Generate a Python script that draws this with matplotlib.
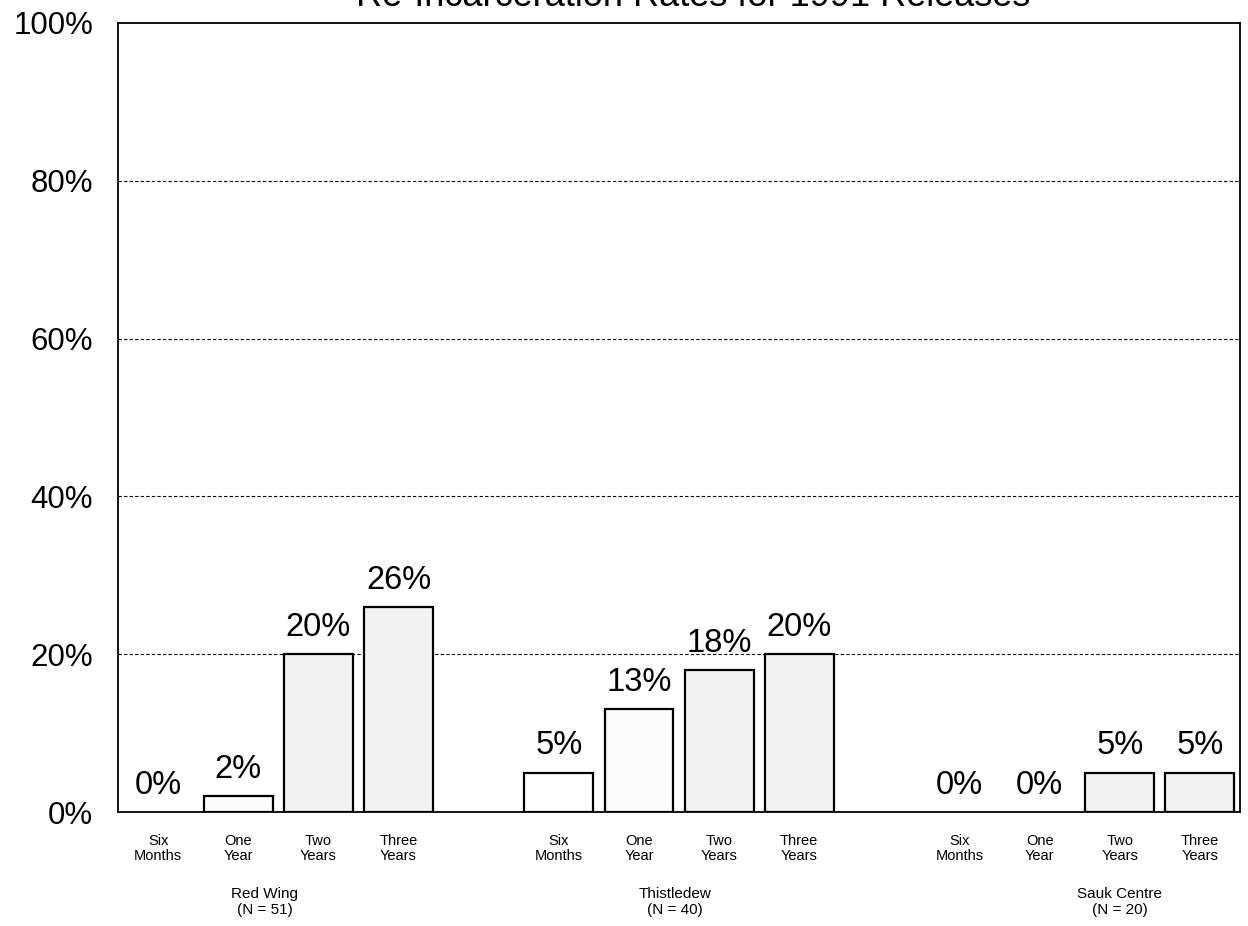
import numpy as np
import matplotlib
matplotlib.use("Agg")
import matplotlib.pyplot as plt
from matplotlib.transforms import blended_transform_factory

plt.rcParams['font.family'] = ['Liberation Sans', 'DejaVu Sans']

# re-incarceration rates (%) by facility and follow-up period
facilities = ['Red Wing\n(N = 51)', 'Thistledew\n(N = 40)', 'Sauk Centre\n(N = 20)']
periods = ['Six\nMonths', 'One\nYear', 'Two\nYears', 'Three\nYears']
red_wing = [0, 2, 20, 26]
thistledew = [5, 13, 18, 20]
sauk_centre = [0, 0, 5, 5]

rates = [red_wing, thistledew, sauk_centre]
fills = ['white', '#fcfcfc', '#f2f2f2', '#f2f2f2']
label_offset = [1.33, 1.45, 2.0]   # where each facility name sits under its group

fig = plt.figure(figsize=(12.48, 9.26), dpi=100)
ax = fig.add_axes([0.0946, 0.1231, 0.899, 0.8521])
trans = blended_transform_factory(ax.transData, ax.transAxes)

xpos = []
xlab = []
for g, vals in enumerate(rates):
    for i, v in enumerate(vals):
        x = g * 5 + i
        xpos.append(x)
        xlab.append(periods[i])
        if v > 0:
            ax.bar(x, v, width=0.86, color=fills[i], edgecolor='black',
                   linewidth=1.6, zorder=3)
        ax.annotate('%d%%' % v, (x, v), xytext=(0, 8), textcoords='offset points',
                    ha='center', va='bottom', fontsize=23.5, zorder=4)
    ax.text(g * 5 + label_offset[g], -0.095, facilities[g], transform=trans,
            ha='center', va='top', fontsize=11, linespacing=1.15)

ax.set_xlim(-0.5, 13.5)
ax.set_ylim(0, 100)
ax.set_xticks(xpos)
ax.set_xticklabels(xlab, fontsize=10.5, linespacing=1.1)
ax.tick_params(axis='x', length=0, pad=16)
ax.set_yticks([0, 20, 40, 60, 80, 100])
ax.set_yticklabels(['%d%%' % t for t in [0, 20, 40, 60, 80, 100]], fontsize=22.5)
ax.tick_params(axis='y', length=0, pad=18)
for t in [20, 40, 60, 80]:
    ax.axhline(t, color='black', linestyle=(0, (3, 2)), linewidth=0.8, zorder=1)
for s in ax.spines.values():
    s.set_linewidth(1.3)

fig.text(0.555, 1 - 6 / 926, 'Re-Incarceration Rates for 1991 Releases',
         ha='center', va='baseline', fontsize=26)

fig.savefig('out.png', dpi=100)
